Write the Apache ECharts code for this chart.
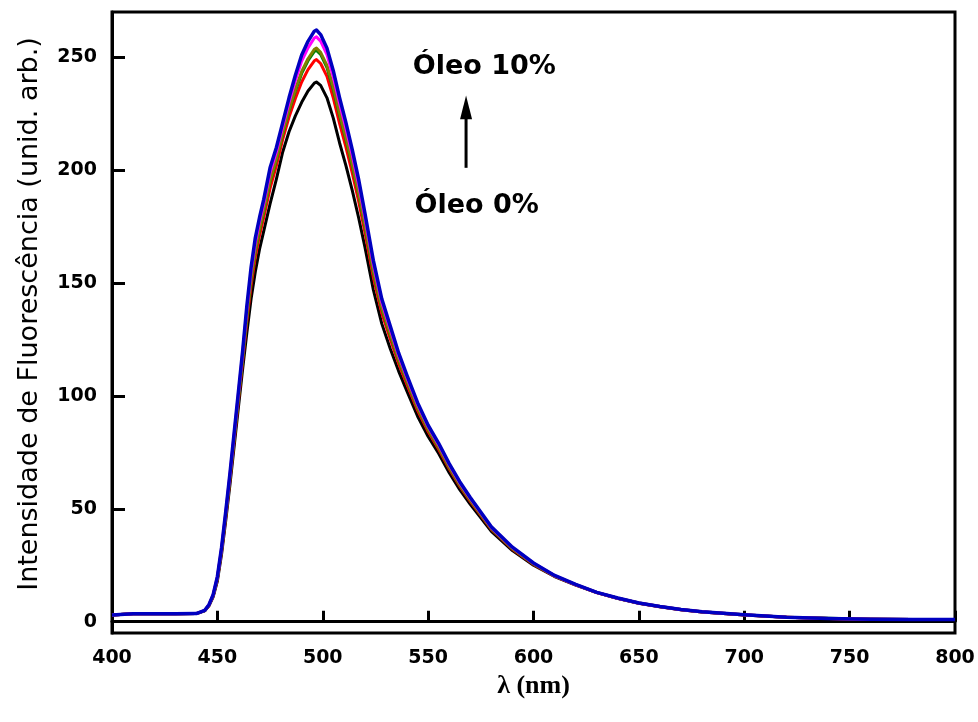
<!DOCTYPE html>
<html><head><meta charset="utf-8">
<script src="https://cdn.jsdelivr.net/npm/echarts@6/dist/echarts.min.js"></script>
<style>html,body{margin:0;padding:0;background:#fff}#c{width:978px;height:722px}</style>
</head><body><div id="c"></div>
<script>
// wavelength (nm)
const wavelength = [400,410,420,430,440, 444,446,448,450,452,454,456,458,460, 462,464,466,468,470,472, 475,478,481,484,487,490,493,496,497,499, 502,505,508,511,514,517,520, 524,528,532,536,540, 545,550,555,560,565,570, 580,590,600,610,620,630,640,650, 660,670,680,690,700, 720,740,760,780,800];

const oleo0 = [3.0,3.5,3.5,3.5,3.6, 4.8,7,11,18,30,45,61,78,95, 112,128,143,155,165,173, 185,196,208,217,224,230,235,238.5,239,237.5, 232,223,212,202,191,179,166, 147,132,121,111,102, 91,82,74.5,66,58.5,52, 40,31.5,25,20,16.2,12.9,10.3,8.2, 6.6,5.3,4.3,3.6,3.0, 2.0,1.4,1.1,1.0,1.0];
const oleoB = [3.0,3.5,3.5,3.5,3.6, 4.9,7.2,11.4,18.9,31.3,46.7,63.2,80.6,98, 115.4,133.2,149,161.5,171,179, 191.9,202,213.6,223.5,231.7,239,244.5,248.4,248.9,247.2, 241.5,232,220.6,210.2,198.7,186.3,172.5, 152.6,136.7,125.3,114.4,105, 93.6,84.2,76.4,67.7,60,53.3, 40.9,32.1,25.4,20.2,16.3,12.9,10.4,8.2, 6.6,5.3,4.3,3.6,3.0, 2.0,1.4,1.1,1.0,1.0];
const oleoC = [3.0,3.5,3.5,3.5,3.6, 4.9,7.3,11.6,19.2,31.8,47.4,64.1,81.7,99.3, 116.9,135.3,151.5,164.2,173.5,181.5, 194.8,204.5,215.9,226.2,235,242.8,248.4,252.5,253,251.2, 245.4,235.8,224.2,213.6,202,189.4,175.2, 154.9,138.7,127.1,115.9,106.3, 94.7,85.1,77.2,68.4,60.6,53.8, 41.2,32.4,25.6,20.3,16.4,13,10.4,8.3, 6.7,5.4,4.4,3.7,3.1, 2.0,1.5,1.1,1.0,1.0];
const oleoD = [3.0,3.5,3.5,3.5,3.6, 4.9,7.3,11.7,19.3,32,47.6,64.3,81.9,99.6, 117.2,135.8,152.1,164.8,174.1,182.1, 195.4,205.1,216.5,226.8,235.7,243.7,249.3,253.5,254,252.1, 246.3,236.7,225,214.4,202.7,190,175.8, 155.5,139.2,127.5,116.2,106.6, 94.9,85.3,77.4,68.6,60.8,54, 41.3,32.5,25.7,20.3,16.4,13,10.4,8.3, 6.7,5.4,4.4,3.7,3.1, 2.0,1.4,1.1,1.0,1.0];
const oleoE = [3.0,3.5,3.5,3.5,3.6, 5,7.4,11.9,19.7,32.6,48.5,65.4,83.2,101.1, 119,138.4,155.2,168,177.2,185.2, 198.9,208.2,219.3,230,239.7,248.3,254.1,258.5,259,257.1, 251.1,241.3,229.4,218.5,206.7,193.8,179.1, 158.3,141.6,129.7,118,108.1, 96.2,86.4,78.4,69.5,61.5,54.6, 41.7,32.8,25.9,20.4,16.4,13,10.4,8.3, 6.7,5.4,4.4,3.7,3.1, 2.0,1.4,1.1,1.0,1.0];
const oleo10 = [3.0,3.5,3.5,3.5,3.6, 5,7.5,12,20,33,49,66,84,102, 120,140,157,170,179,187, 201,210,221,232,242,251,257,261.5,262,260, 254,244,232,221,209,196,181, 160,143,131,119,109, 97,87,79,70,62,55, 42,33,26,20.5,16.5,13,10.5,8.3, 6.7,5.4,4.4,3.7,3.1, 2.0,1.4,1.1,1.0,1.0];

const seriesNames = ['Óleo 0%','Óleo (2)','Óleo (3)','Óleo (4)','Óleo (5)','Óleo 10%'];
const seriesValues = [oleo0, oleoB, oleoC, oleoD, oleoE, oleo10];
const seriesColors = ['#000000','#ff0000','#008000','#808000','#ff00ff','#0000c0'];
const yTicks = [0,50,100,150,200,250];
const labelTop = 'Óleo 10%';
const labelBottom = 'Óleo 0%';

const chart = echarts.init(document.getElementById('c'), null, {renderer:'canvas'});
const tickFont = {color:'#000', fontFamily:'DejaVu Sans', fontWeight:'bold', fontSize:19};

chart.setOption({
  animation:false,
  backgroundColor:'#fff',
  grid:{left:112, right:23, top:12, bottom:89, show:true, borderColor:'#000', borderWidth:3, backgroundColor:'transparent'},
  xAxis:{type:'value', min:400, max:800, interval:50,
    axisLine:{lineStyle:{color:'#000', width:3}},
    axisTick:{inside:true, length:11, lineStyle:{color:'#000', width:3}},
    axisLabel:Object.assign({margin:16}, tickFont),
    splitLine:{show:false},
    name:'λ (nm)', nameLocation:'middle', nameGap:37,
    nameTextStyle:{fontFamily:'Liberation Serif', fontWeight:'bold', fontSize:26, color:'#000'}},
  yAxis:{type:'value', min:-5, max:270,
    axisLine:{lineStyle:{color:'#000', width:3}},
    axisTick:{inside:true, length:13, customValues:yTicks, lineStyle:{color:'#000', width:3}},
    axisLabel:Object.assign({margin:15, customValues:yTicks}, tickFont),
    splitLine:{show:false}},
  series: seriesValues.map((vals, i) => ({
    name: seriesNames[i], type:'line', showSymbol:false, smooth:false,
    lineStyle:{color:seriesColors[i], width: i === 5 ? 3.5 : 3, join:'round'},
    itemStyle:{color:seriesColors[i]},
    z: 2 + i,
    data: wavelength.map((w, j) => [w, vals[j]])
  }))
});

const p = (x, y) => chart.convertToPixel({gridIndex:0}, [x, y]);
const aTop = p(568, 233), aBot = p(568, 201), aBase = p(568, 223);
const t1 = p(542.7, 245.8), t2 = p(543.5, 184);
const annFont = 'bold 27px "DejaVu Sans"';
chart.setOption({
  graphic:[
    {type:'text', x:30, y:314, rotation:Math.PI/2,
      style:{text:'Intensidade de Fluorescência (unid. arb.)', font:'27px "DejaVu Sans"', fill:'#000', textAlign:'center', textVerticalAlign:'middle'}},
    {type:'text', x:t1[0], y:t1[1], style:{text:labelTop, font:annFont, fill:'#000', textAlign:'left', textVerticalAlign:'middle'}},
    {type:'text', x:t2[0], y:t2[1], style:{text:labelBottom, font:annFont, fill:'#000', textAlign:'left', textVerticalAlign:'middle'}},
    {type:'line', shape:{x1:aBot[0], y1:aBot[1], x2:aBase[0], y2:aBase[1]}, style:{stroke:'#000', lineWidth:3}},
    {type:'polygon', shape:{points:[[aTop[0], aTop[1]], [aBase[0]-6, aBase[1]+1], [aBase[0]+6, aBase[1]+1]]}, style:{fill:'#000'}}
  ]
});
</script></body></html>
